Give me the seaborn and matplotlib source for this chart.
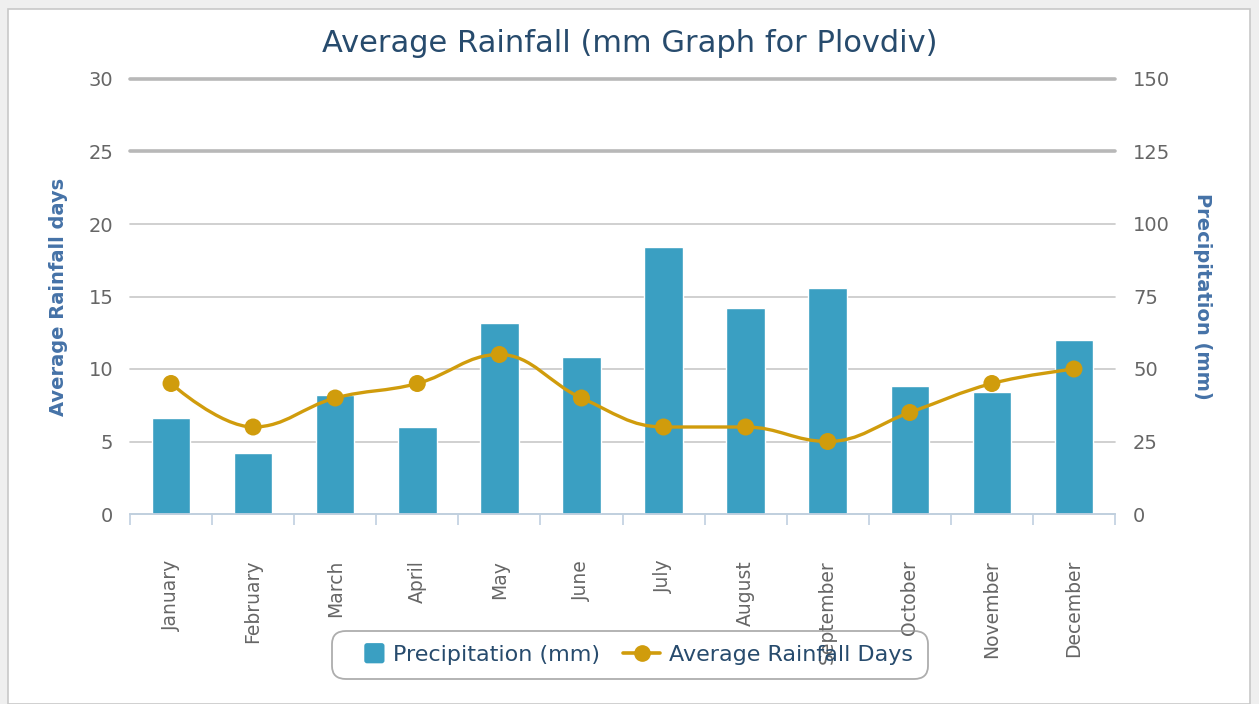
import numpy as np
import pandas as pd
import matplotlib
matplotlib.use("Agg")
import matplotlib.pyplot as plt
import seaborn as sns
from matplotlib.path import Path
from matplotlib.patches import PathPatch, Rectangle, FancyBboxPatch, Patch
from matplotlib.lines import Line2D
from matplotlib.legend_handler import HandlerPatch

# data
months = ["January", "February", "March", "April", "May", "June",
          "July", "August", "September", "October", "November", "December"]
precipitation_mm = [33, 21, 41, 30, 66, 54, 92, 71, 78, 44, 42, 60]
rainfall_days = [9, 6, 8, 9, 11, 8, 6, 6, 5, 7, 9, 10]
days_ticks = [0, 5, 10, 15, 20, 25, 30]
precip_ticks = [0, 25, 50, 75, 100, 125, 150]

BAR_COLOR = "#3a9fc2"
LINE_COLOR = "#d09c0c"
TITLE_COLOR = "#274b6d"
AXIS_TITLE_COLOR = "#4572a7"
TICK_COLOR = "#666666"

sns.set_style("white")
plt.rcParams["font.family"] = ["DejaVu Sans"]

df = pd.DataFrame({"month": months, "precip": precipitation_mm, "days": rainfall_days})
positions = np.arange(len(months))


def spline_path(xs, ys, smoothing=1.5):
    # highcharts-like spline through the points (bezier control points only)
    denom = smoothing + 1
    n = len(xs)
    left = [None] * n
    right = [None] * n
    for i in range(1, n - 1):
        px, py = xs[i], ys[i]
        lx, ly = xs[i - 1], ys[i - 1]
        nx, ny = xs[i + 1], ys[i + 1]
        lcx = (smoothing * px + lx) / denom
        lcy = (smoothing * py + ly) / denom
        rcx = (smoothing * px + nx) / denom
        rcy = (smoothing * py + ny) / denom
        corr = 0
        if rcx != lcx:
            corr = ((rcy - lcy) * (rcx - px)) / (rcx - lcx) + py - rcy
        lcy += corr
        rcy += corr
        if lcy > ly and lcy > py:
            lcy = max(ly, py)
            rcy = 2 * py - lcy
        elif lcy < ly and lcy < py:
            lcy = min(ly, py)
            rcy = 2 * py - lcy
        if rcy > ny and rcy > py:
            rcy = max(ny, py)
            lcy = 2 * py - rcy
        elif rcy < ny and rcy < py:
            rcy = min(ny, py)
            lcy = 2 * py - rcy
        left[i] = (lcx, lcy)
        right[i] = (rcx, rcy)
    verts = [(xs[0], ys[0])]
    codes = [Path.MOVETO]
    for i in range(1, n):
        c1 = right[i - 1] if right[i - 1] else (xs[i - 1], ys[i - 1])
        c2 = left[i] if left[i] else (xs[i], ys[i])
        verts += [c1, c2, (xs[i], ys[i])]
        codes += [Path.CURVE4] * 3
    return Path(verts, codes)


fig = plt.figure(figsize=(12.59, 7.04), dpi=100, facecolor="#efefef")
fig.patches.append(Rectangle((8 / 1259, 0), 1242 / 1259, 695 / 704, transform=fig.transFigure,
                             facecolor="white", edgecolor="#c8c8c8", lw=1.2, zorder=-1))
ax = fig.add_axes([130 / 1259, 1 - 514 / 704, 985 / 1259, 435 / 704])

# bars -> precipitation (right axis)
sns.barplot(data=df, x="month", y="precip", ax=ax, color=BAR_COLOR, saturation=1,
            width=0.47, edgecolor="white", linewidth=1, zorder=2)

# line -> rainfall days (left axis)
ax2 = ax.twinx()
ax.yaxis.tick_right()
ax.yaxis.set_label_position("right")
ax2.yaxis.tick_left()
ax2.yaxis.set_label_position("left")

ax2.add_patch(PathPatch(spline_path(positions, rainfall_days), facecolor="none",
                        edgecolor=LINE_COLOR, lw=2.4, zorder=3))
sns.scatterplot(x=positions, y=df["days"], ax=ax2, color=LINE_COLOR, s=150,
                edgecolor="none", zorder=4, legend=False)

ax.set_ylim(0, 150)
ax.set_yticks(precip_ticks)
ax2.set_ylim(0, 30)
ax2.set_yticks(days_ticks)
ax.set_xlim(-0.5, len(months) - 0.5)

ax.grid(axis="y", color="#c8c8c8", lw=1.2)
ax.grid(axis="x", visible=False)
ax2.grid(False)
ax.set_axisbelow(True)
for tick, val in zip(ax.yaxis.get_major_ticks(), ax.get_yticks()):
    tick.gridline.set_clip_on(False)
    if val >= 125:
        tick.gridline.set_linewidth(2.6)
        tick.gridline.set_color("#b8b8b8")

for a in (ax, ax2):
    for s in a.spines.values():
        s.set_visible(False)
ax.spines["bottom"].set_visible(True)
ax.spines["bottom"].set_color("#c0d0e0")
ax.spines["bottom"].set_linewidth(1.3)

ax.set_xticks(np.arange(-0.5, len(months)), labels=[])
ax.set_xticks(positions, labels=months, minor=True)
ax.tick_params(axis="x", which="major", length=8, width=1.2, color="#c0d0e0", direction="out", bottom=True)
ax.tick_params(axis="x", which="minor", length=0, pad=33, labelsize=13.5, labelcolor=TICK_COLOR,
               labelrotation=90, bottom=True)
ax.tick_params(axis="y", length=0, pad=13, labelsize=14, labelcolor=TICK_COLOR)
ax2.tick_params(axis="y", length=0, pad=12, labelsize=14, labelcolor=TICK_COLOR)
ax.set_xlabel("")

ax2.set_ylabel("Average Rainfall days", fontsize=14, fontweight="bold", color=AXIS_TITLE_COLOR)
ax2.yaxis.set_label_coords(-0.063, 0.5)
ax.set_ylabel("Precipitation (mm)", fontsize=14, fontweight="bold", color=AXIS_TITLE_COLOR,
              rotation=270, va="bottom")
ax.yaxis.set_label_coords(1.079, 0.5)

fig.text(0.5, 1 - 44 / 704, "Average Rainfall (mm Graph for Plovdiv)", ha="center", va="center",
         fontsize=22, color=TITLE_COLOR)


def square_patch(legend, orig_handle, xdescent, ydescent, width, height, fontsize):
    side = height * 1.3
    return FancyBboxPatch((-xdescent + width - side, -ydescent + (height - side) / 2), side, side,
                          boxstyle="round,pad=0,rounding_size=2")


bar_handle = Patch(facecolor=BAR_COLOR, edgecolor="none")
line_handle = Line2D([], [], color=LINE_COLOR, lw=2.6, marker="o", markersize=11)
leg = fig.legend([bar_handle, line_handle], ["Precipitation (mm)", "Average Rainfall Days"],
                 loc="center", bbox_to_anchor=(630 / 1259, 1 - 655 / 704), ncol=2,
                 fontsize=16, labelcolor=TITLE_COLOR, frameon=True, fancybox=True,
                 edgecolor="#999999", facecolor="none",
                 handlelength=1.7, handletextpad=0.4, columnspacing=1.0, borderpad=0.45,
                 handler_map={Patch: HandlerPatch(patch_func=square_patch)})
leg.get_frame().set_boxstyle("round,pad=0.2,rounding_size=0.6")
leg.get_frame().set_linewidth(1.3)

fig.savefig("out.png", dpi=100, facecolor=fig.get_facecolor())
